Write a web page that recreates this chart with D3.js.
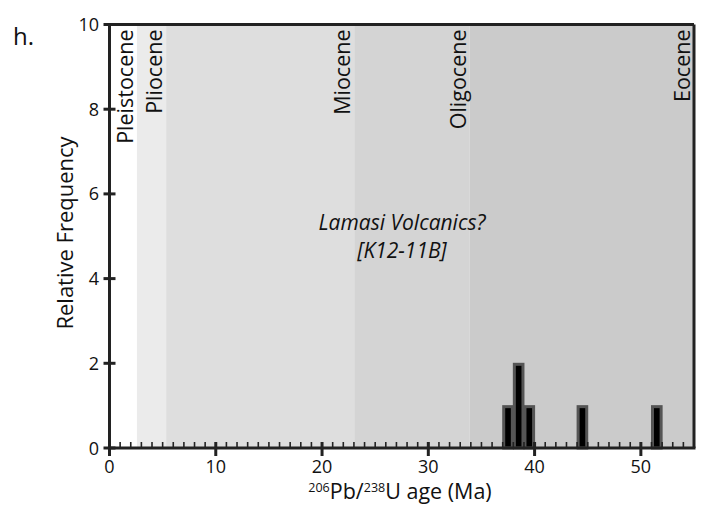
<!DOCTYPE html>
<html><head><meta charset="utf-8">
<script src="https://cdn.jsdelivr.net/npm/d3@7"></script>
<style>body{margin:0;background:#fff}svg{display:block}text{font-family:"Open Sans","Noto Sans",sans-serif}</style>
</head><body><svg id="c" width="707" height="505"></svg>
<script>
const epochNames = ["Pleistocene","Pliocene","Miocene","Oligocene","Eocene"];
const epochStart = [0, 2.58, 5.33, 23.03, 33.9];
const epochEnd = [2.58, 5.33, 23.03, 33.9, 55];
const epochFill = ["#ffffff","#ebebeb","#dedede","#d4d4d4","#cbcbcb"];
const binStart = [37, 38, 39, 44, 51];
const binCount = [1, 2, 1, 1, 1];
const binWidth = 1;
const yTicks = [0,2,4,6,8,10];
const xTicks = [0,10,20,30,40,50];

const svg = d3.select("#c");
const x = d3.scaleLinear().domain([0,55]).range([109.5,694]);
const y = d3.scaleLinear().domain([0,10]).range([448,24.5]);

// epoch bands
svg.selectAll("rect.band").data(epochNames).join("rect")
  .attr("x",(d,i)=>x(epochStart[i])).attr("width",(d,i)=>x(epochEnd[i])-x(epochStart[i]))
  .attr("y",y(10)).attr("height",y(0)-y(10)).attr("fill",(d,i)=>epochFill[i]);

// epoch labels
svg.selectAll("text.ep").data(epochNames).join("text")
  .attr("transform",(d,i)=>`translate(${x(epochEnd[i])-4},${y(10)+5}) rotate(-90)`)
  .attr("text-anchor","end").attr("font-size",21.5).attr("fill","#111").text(d=>d);

// bars
svg.selectAll("rect.bar").data(binStart).join("rect")
  .attr("x",d=>x(d)+1).attr("width",d=>x(d+binWidth)-x(d)-2)
  .attr("y",(d,i)=>y(binCount[i])+1).attr("height",(d,i)=>y(0)-y(binCount[i])-1)
  .attr("fill","#000").attr("stroke","#555").attr("stroke-width",3);

// frame top and right
svg.append("line").attr("x1",x(0)).attr("x2",x(55)).attr("y1",y(10)).attr("y2",y(10)).attr("stroke","#222").attr("stroke-width",3);
svg.append("line").attr("x1",x(55)).attr("x2",x(55)).attr("y1",y(10)).attr("y2",y(0)).attr("stroke","#222").attr("stroke-width",3);

// x minor ticks (inside)
const minor = d3.range(0,56,1);
svg.selectAll("line.mt").data(minor).join("line")
  .attr("x1",d=>x(d)).attr("x2",d=>x(d)).attr("y1",y(0)).attr("y2",y(0)-6)
  .attr("stroke","#222").attr("stroke-width",1.6);
// x major ticks
svg.selectAll("line.Mt").data(xTicks).join("line")
  .attr("x1",d=>x(d)).attr("x2",d=>x(d)).attr("y1",y(0)-6).attr("y2",y(0)+8)
  .attr("stroke","#222").attr("stroke-width",3);
svg.selectAll("text.xt").data(xTicks).join("text")
  .attr("x",d=>x(d)).attr("y",y(0)+24.5).attr("text-anchor","middle").attr("font-size",18).attr("fill","#111").text(d=>d);

// y ticks
svg.selectAll("line.yt").data(yTicks).join("line")
  .attr("x1",x(0)-6).attr("x2",x(0)+6).attr("y1",d=>y(d)).attr("y2",d=>y(d))
  .attr("stroke","#222").attr("stroke-width",3);
svg.selectAll("text.ytl").data(yTicks).join("text")
  .attr("x",99).attr("y",d=>y(d)+6.5).attr("text-anchor","end").attr("font-size",18).attr("fill","#111").text(d=>d);

// axis lines
svg.append("line").attr("x1",x(0)).attr("x2",x(0)).attr("y1",y(10)-1.5).attr("y2",y(0)+1.5).attr("stroke","#222").attr("stroke-width",3);
svg.append("line").attr("x1",x(0)-1.5).attr("x2",x(55)+1.5).attr("y1",y(0)).attr("y2",y(0)).attr("stroke","#222").attr("stroke-width",3);

// labels
svg.append("text").attr("transform","translate(73,233) rotate(-90)").attr("text-anchor","middle").attr("font-size",22).attr("fill","#111").text("Relative Frequency");
const xl = svg.append("text").attr("x",400).attr("y",498.5).attr("text-anchor","middle").attr("font-size",21.5).attr("fill","#111");
xl.append("tspan").attr("font-size",12.5).attr("dy",-7).text("206");
xl.append("tspan").attr("dy",7).text("Pb/");
xl.append("tspan").attr("font-size",12.5).attr("dy",-7).text("238");
xl.append("tspan").attr("dy",7).text("U age (Ma)");

svg.append("text").attr("x",13).attr("y",45).attr("font-size",24).attr("fill","#111").text("h.");

svg.append("text").attr("x",402).attr("y",230).attr("text-anchor","middle").attr("font-size",21).attr("font-style","italic").attr("fill","#111").text("Lamasi Volcanics?");
svg.append("text").attr("x",402).attr("y",258).attr("text-anchor","middle").attr("font-size",21).attr("font-style","italic").attr("fill","#111").text("[K12-11B]");
</script></body></html>
